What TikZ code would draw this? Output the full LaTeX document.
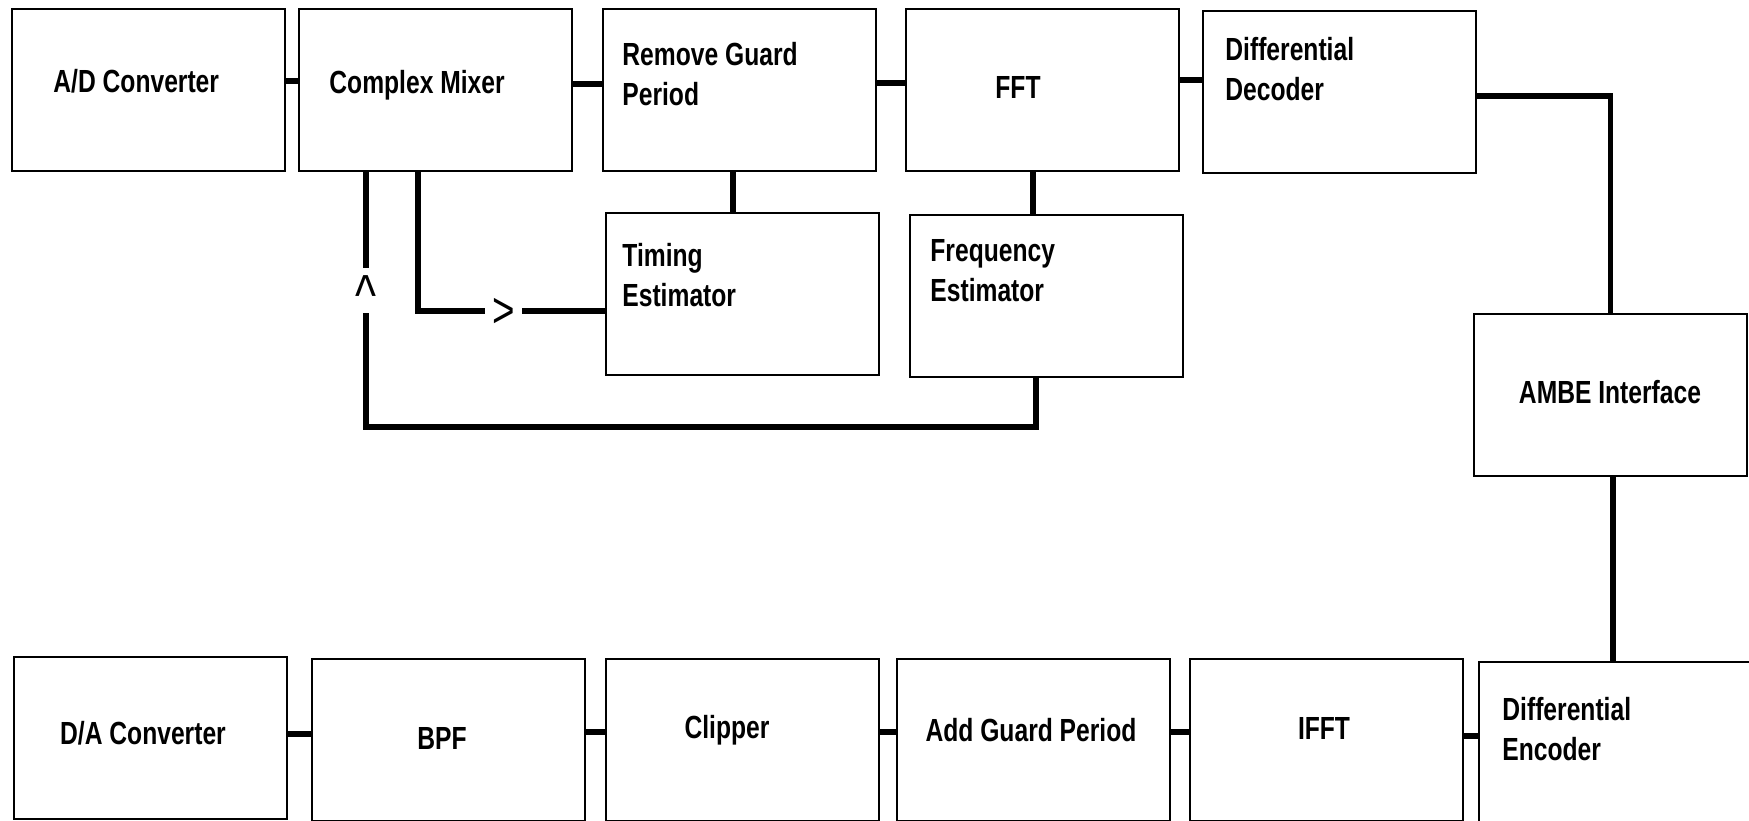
\documentclass[tikz,border=0pt]{standalone}
\usepackage{fontspec}
\newfontfamily\labfont{Liberation Sans}[FakeStretch=0.77]
\begin{document}
\begin{tikzpicture}[x=0.5pt,y=-0.5pt,
  blk/.style={draw, line width=1pt, minimum width=136.5pt, minimum height=81pt, anchor=north west, inner sep=0pt},
  lbl/.style={font=\labfont\bfseries\fontsize{16}{20}\selectfont, align=left, inner sep=0pt},
  wire/.style={line width=2.6pt},
  chev/.style={inner sep=0pt}
]
\clip (0,0) rectangle (1749,820);
\fill[white] (0,0) rectangle (1749,820);
% blocks
\node[blk] (ad) at (11,8) {};
\node[blk] (cm) at (298,8) {};
\node[blk] (rgp) at (602,8) {};
\node[blk] (fft) at (905,8) {};
\node[blk] (dd) at (1202,10) {};
\node[blk] (te) at (605,212) {};
\node[blk] (fe) at (909,214) {};
\node[blk] (ambe) at (1473,313) {};
\node[blk] (da) at (13,656) {};
\node[blk] (bpf) at (311,658) {};
\node[blk] (clip) at (605,658) {};
\node[blk] (agp) at (896,658) {};
\node[blk] (ifft) at (1189,658) {};
\node[blk, minimum width=135.5pt] (de) at (1478,661) {};
% labels
\node[lbl, anchor=west] (tad) at (53,81) {A/D Converter};
\node[lbl, anchor=west] (tcm) at (329,85) {Complex Mixer};
\node[lbl, anchor=west] (trgp) at (622,74) {Remove Guard\\Period};
\node[lbl] (tfft) at (1018,87) {FFT};
\node[lbl, anchor=west] (tdd) at (1225,69) {Differential\\Decoder};
\node[lbl, anchor=west] (tte) at (622,275) {Timing\\Estimator};
\node[lbl, anchor=west] (tfe) at (930,271) {Frequency\\Estimator};
\node[lbl] (tambe) at (1610,392) {AMBE Interface};
\node[lbl] (tda) at (143,733) {D/A Converter};
\node[lbl] (tbpf) at (442,738) {BPF};
\node[lbl] (tclip) at (727,730) {Clipper};
\node[lbl] (tagp) at (1031,730) {Add Guard Period};
\node[lbl] (tifft) at (1324,728) {IFFT};
\node[lbl, anchor=west] (tde) at (1502,729) {Differential\\Encoder};
% top chain
\draw[wire] (ad.east |- 0,81) -- (cm.west |- 0,81);
\draw[wire] (cm.east |- 0,84) -- (rgp.west |- 0,84);
\draw[wire] (rgp.east |- 0,83) -- (fft.west |- 0,83);
\draw[wire] (fft.east |- 0,80) -- (dd.west |- 0,80);
\draw[wire] (dd.east |- 0,96) -| (ambe.north);
\draw[wire] (ambe.south -| 1613,0) -- (de.north -| 1613,0);
% bottom chain
\draw[wire] (de.west |- 0,736) -- (ifft.east |- 0,736);
\draw[wire] (ifft.west |- 0,732) -- (agp.east |- 0,732);
\draw[wire] (agp.west |- 0,732) -- (clip.east |- 0,732);
\draw[wire] (clip.west |- 0,732) -- (bpf.east |- 0,732);
\draw[wire] (bpf.west |- 0,734) -- (da.east |- 0,734);
% estimators
\draw[wire] (rgp.south -| 733,0) -- (te.north -| 733,0);
\draw[wire] (fft.south -| 1033,0) -- (fe.north -| 1033,0);
% timing feedback
\coordinate (g1) at (485,311);
\coordinate (g2) at (522,311);
\draw[wire] (cm.south -| 418,0) |- (g1);
\draw[wire] (g2) -- (te.west |- g2);
\node[chev, font=\labfont\fontsize{25}{25}\selectfont] (gt) at (504,313) {>};
% frequency feedback
\coordinate (h1) at (366,268);
\coordinate (h2) at (366,313);
\coordinate (h3) at (366,427);
\draw[wire] (cm.south -| h1) -- (h1);
\draw[wire] (h2) -- (h3) -| (fe.south -| 1036,0);
\node[chev, anchor=north, font=\labfont\fontsize{29}{29}\selectfont] (up) at (366,275) {\textasciicircum};
\end{tikzpicture}
\end{document}
